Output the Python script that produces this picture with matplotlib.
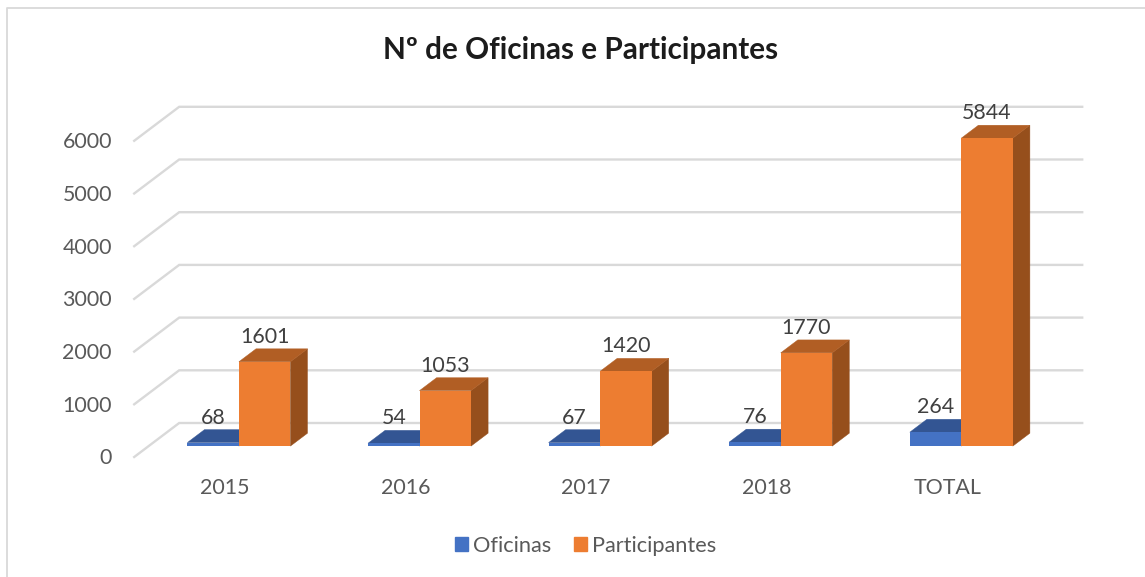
import matplotlib
matplotlib.use("Agg")
import matplotlib.pyplot as plt
from matplotlib.lines import Line2D
from matplotlib.patches import Polygon, Rectangle

categories = ["2015", "2016", "2017", "2018", "TOTAL"]
oficinas = [68, 54, 67, 76, 264]
participantes = [1601, 1053, 1420, 1770, 5844]
y_ticks = [0, 1000, 2000, 3000, 4000, 5000, 6000]

plt.rcParams["font.family"] = ["Lato", "DejaVu Sans"]

W, H = 1145, 577
PX_X = 180.6   # pixels per category
PX_Y = 0.0527  # pixels per unit of value
X0, Y0 = 224.5, 457  # pixel position of the first category, value 0, front of the floor

# depth of the fake 3D box, in data units
DX = 45 / PX_X
DY = 34 / PX_Y
BAR_W = 51.5 / PX_X
NEAR = 0.32  # bars sit between these fractions of the depth
FAR = 0.70
FONT = 15.4

fig = plt.figure(figsize=(W / 100, H / 100), dpi=100)
ax = fig.add_axes([0, 0, 1, 1])
ax.set_xlim(-X0 / PX_X, (W - X0) / PX_X)
ax.set_ylim(-(H - Y0) / PX_Y, Y0 / PX_Y)
ax.axis("off")

# outer frame: only the top and left edges show in the crop
fig.add_artist(Line2D([6.5 / W, 6.5 / W, 1], [0, 1 - 7.5 / H, 1 - 7.5 / H],
                      transform=fig.transFigure, color="#D9D9D9", linewidth=1.3))

GRID = "#D9D9D9"
left, right = -0.5, len(categories) - 0.5
tick_x = (112 - X0) / PX_X
for v in y_ticks:
    ax.plot([left, left + DX, right + DX], [v, v + DY, v + DY],
            color=GRID, linewidth=1.7, solid_joinstyle="miter", zorder=1)
    ax.text(tick_x, v - 1.5 / PX_Y, str(v), ha="right", va="center", fontsize=FONT, color="#595959")


def draw_bar(xc, value, front, top, side, z):
    x1 = xc + NEAR * DX - BAR_W / 2
    x2 = x1 + BAR_W
    b = NEAR * DY
    off_x = (FAR - NEAR) * DX
    off_y = (FAR - NEAR) * DY
    ax.add_patch(Polygon([(x2, b), (x2 + off_x, b + off_y), (x2 + off_x, b + value + off_y), (x2, b + value)],
                         facecolor=side, edgecolor=side, linewidth=0.3, zorder=z))
    ax.add_patch(Polygon([(x1, b + value), (x2, b + value), (x2 + off_x, b + value + off_y),
                          (x1 + off_x, b + value + off_y)],
                         facecolor=top, edgecolor=top, linewidth=0.3, zorder=z))
    ax.bar(x1, value, width=BAR_W, bottom=b, align="edge", color=front, edgecolor="none", zorder=z + 0.1)
    ax.text(x1 + BAR_W / 2, b + value + 25 / PX_Y, str(value), ha="center", va="center",
            fontsize=FONT, color="#404040", zorder=5)


for i, cat in enumerate(categories):
    draw_bar(i - BAR_W / 2, oficinas[i], "#4472C4", "#335593", "#2F5597", 2)
    draw_bar(i + BAR_W / 2, participantes[i], "#ED7D31", "#B15E24", "#964F1C", 3)
    ax.text(i + 0.5 / PX_X, -31.5 / PX_Y, cat, ha="center", va="center", fontsize=FONT, color="#595959")

fig.text(581 / W, 1 - 50.5 / H, "Nº de Oficinas e Participantes", ha="center", va="center",
         fontsize=21.4, fontweight="bold", color="#1c1c1c")

handles = [Rectangle((0, 0), 1, 1, color="#4472C4"), Rectangle((0, 0), 1, 1, color="#ED7D31")]
fig.legend(handles, ["Oficinas", "Participantes"], loc="center", bbox_to_anchor=(585.5 / W, 1 - 546 / H),
           ncol=2, frameon=False, fontsize=15.7, labelcolor="#595959", handlelength=0.62,
           handleheight=0.62, handletextpad=0.2, columnspacing=1.05)

fig.savefig("out.png", dpi=100)
